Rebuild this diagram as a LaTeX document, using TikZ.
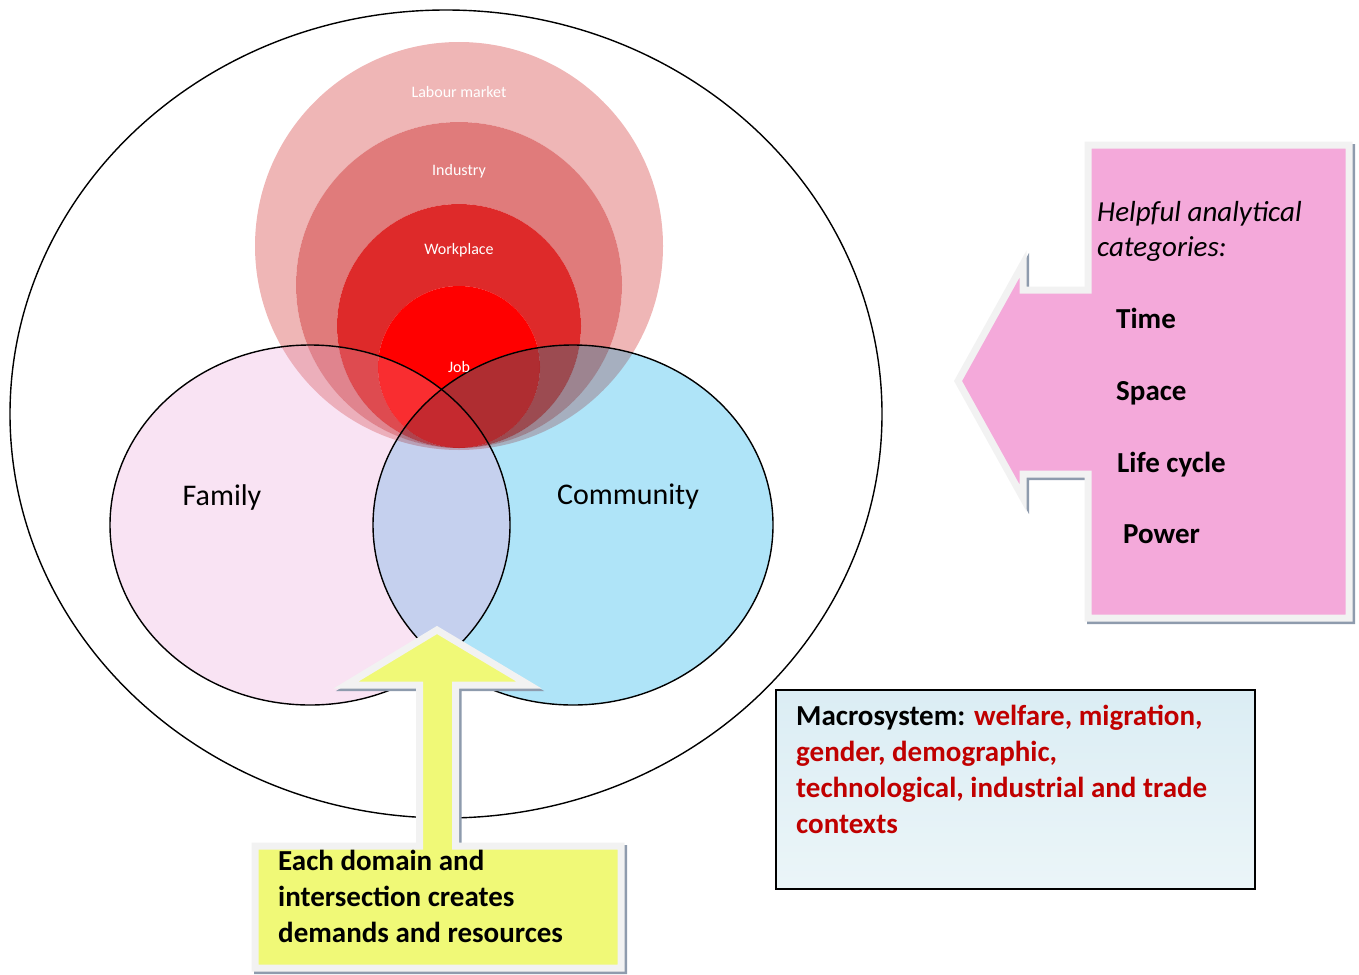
\documentclass[tikz,border=0pt]{standalone}
\usepackage{fontspec}
\setmainfont{Carlito}
\usepackage{tikz}
\usepackage{xcolor}
\definecolor{labour}{HTML}{EFB6B6}
\definecolor{industry}{HTML}{E07B7B}
\definecolor{workplace}{HTML}{DE2A2A}
\definecolor{job}{HTML}{FF0000}
\definecolor{famfill}{HTML}{F9E3F3}
\definecolor{comfill}{HTML}{AFE4F8}
\definecolor{meetfill}{HTML}{C5D0EE}
\definecolor{rim}{HTML}{F2F2F2}
\definecolor{rimshade}{HTML}{8E9BAD}
\definecolor{pinkfill}{HTML}{F4A9DA}
\definecolor{yellowfill}{HTML}{F0F977}
\definecolor{macrored}{HTML}{C00000}
\definecolor{macrotop}{HTML}{DBEDF4}
\definecolor{macrobot}{HTML}{EBF5F8}
% nested work rings, each filled only where the next one is not
\newcommand{\workrings}{%
  \fill[labour,even odd rule] (459,246) circle[radius=204] (459,285) circle[radius=163];
  \fill[industry,even odd rule] (459,285) circle[radius=163] (459,326) circle[radius=122];
  \fill[workplace,even odd rule] (459,326) circle[radius=122] (459,367) circle[radius=81];
  \fill[job] (459,367) circle[radius=81];}
\newcommand{\familypath}{(310,525) ellipse[x radius=200,y radius=180]}
\newcommand{\communitypath}{(573,525) ellipse[x radius=200,y radius=180]}

\begin{document}
\begin{tikzpicture}[x=1pt,y=-1pt,
  ringlbl/.style={text=white,font=\fontsize{16}{19}\selectfont,inner sep=0pt},
  domlbl/.style={font=\fontsize{30}{36}\selectfont,inner sep=0pt},
  cat/.style={font=\fontsize{29}{34}\selectfont\bfseries,anchor=base west,inner sep=0pt},
  callout/.style={draw=rim,line width=7pt,line join=miter},
  calloutshadow/.style={draw=rimshade,line width=7pt,line join=miter,shift={(2.5,2.5)}}]
  \useasboundingbox (0,0) rectangle (1359,974);
  % microsystem boundary
  \draw[line width=1.4pt] (446,414) ellipse[x radius=436,y radius=404];
  \workrings
  \fill[famfill] \familypath;
  \fill[comfill] \communitypath;
  \begin{scope}
    \clip \familypath;
    \fill[meetfill] \communitypath;
  \end{scope}
  \begin{scope}
    \clip \familypath \communitypath;
    \begin{scope}[blend mode=multiply,opacity=.8]
      \workrings
    \end{scope}
  \end{scope}
  \draw[line width=1.4pt] \familypath;
  \draw[line width=1.4pt] \communitypath;
  \node[ringlbl] (lbl-labour) at (459,92) {Labour market};
  \node[ringlbl] (lbl-industry) at (459,171) {Industry};
  \node[ringlbl] (lbl-workplace) at (459,250) {Workplace};
  \node[ringlbl] (lbl-job) at (459,367) {Job};
  \node[domlbl] (family) at (222,497) {Family};
  \node[domlbl] (community) at (628,497) {Community};
  % left-pointing callout with categories
  \draw[calloutshadow] (958,381) -- (1023,264) -- (1023,290) -- (1088,290) -- (1088,145)
    -- (1349,145) -- (1349,618) -- (1088,618) -- (1088,474) -- (1023,474) -- (1023,498) -- cycle;
  \draw[callout,fill=pinkfill] (958,381) -- (1023,264) -- (1023,290) -- (1088,290) -- (1088,145)
    -- (1349,145) -- (1349,618) -- (1088,618) -- (1088,474) -- (1023,474) -- (1023,498) -- cycle;
  \node[anchor=north west,inner sep=0pt,align=left,font=\fontsize{29}{35}\selectfont\itshape]
    (helpful) at (1097,201) {Helpful analytical\\categories:};
  \node[cat] (time) at (1116,328) {Time};
  \node[cat] (space) at (1116,400) {Space};
  \node[cat] (lifecycle) at (1117,472) {Life cycle};
  \node[cat] (power) at (1123,543) {Power};
  % up-pointing callout
  \draw[calloutshadow] (255,846) -- (419.5,846) -- (419.5,685) -- (346,685) -- (437,630)
    -- (529,685) -- (455.5,685) -- (455.5,846) -- (621,846) -- (621,968) -- (255,968) -- cycle;
  \draw[callout,fill=yellowfill] (255,846) -- (419.5,846) -- (419.5,685) -- (346,685) -- (437,630)
    -- (529,685) -- (455.5,685) -- (455.5,846) -- (621,846) -- (621,968) -- (255,968) -- cycle;
  \node[anchor=north west,inner sep=0pt,align=left,font=\fontsize{29}{36}\selectfont\bfseries]
    (demands) at (278,850) {Each domain and\\intersection creates\\demands and resources};
  % macrosystem box
  \node[draw,line width=1.6pt,top color=macrotop,bottom color=macrobot,anchor=north west,
    minimum width=479pt,minimum height=199pt,inner sep=0pt] (macro) at (775,689) {};
  \node[anchor=north west,inner sep=0pt,align=left,font=\fontsize{29}{36}\selectfont\bfseries]
    (macrotext) at (796,705) {Macrosystem: \textcolor{macrored}{welfare, migration,}\\
    \textcolor{macrored}{gender, demographic,}\\
    \textcolor{macrored}{technological, industrial and trade}\\
    \textcolor{macrored}{contexts}};
\end{tikzpicture}
\end{document}
